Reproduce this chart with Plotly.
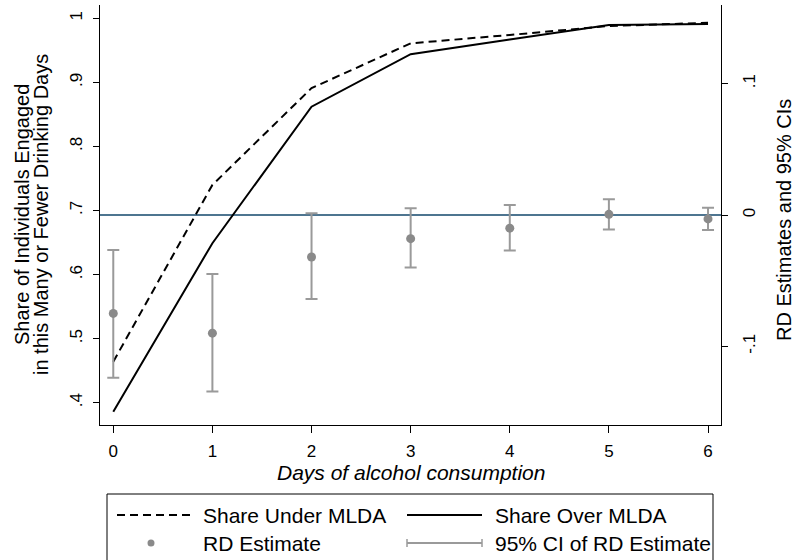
import plotly.graph_objects as go

# ---- data ----
days = [0, 1, 2, 3, 4, 5, 6]
share_under = [0.464, 0.740, 0.891, 0.961, 0.974, 0.988, 0.993]
share_over = [0.386, 0.649, 0.862, 0.944, 0.967, 0.9895, 0.991]
rd_est = [-0.075, -0.090, -0.032, -0.018, -0.010, 0.0005, -0.003]
ci_low = [-0.124, -0.1345, -0.064, -0.040, -0.027, -0.011, -0.0114]
ci_high = [-0.0266, -0.0449, 0.0013, 0.0051, 0.0076, 0.012, 0.0056]

left_tickvals = [0.4, 0.5, 0.6, 0.7, 0.8, 0.9, 1.0]
left_ticktext = [".4", ".5", ".6", ".7", ".8", ".9", "1"]
right_tickvals = [-0.1, 0.0, 0.1]
right_ticktext = ["-.1", "0", ".1"]

FONT = "Liberation Sans, Arial, sans-serif"
GREY_MK = "#8a8a8a"
GREY_CI = "#9a9a9a"
ZERO_COL = "#4e7590"

W, H = 795, 560
L, R, T, B = 100, 74, 5, 135
PW, PH = W - L - R, H - T - B


def xp(page_x):
    return (page_x - L) / PW


def yp(page_y):
    return (H - B - page_y) / PH


fig = go.Figure()

err_plus = [h - e for h, e in zip(ci_high, rd_est)]
err_minus = [e - l for e, l in zip(rd_est, ci_low)]

fig.add_trace(go.Scatter(
    x=days, y=rd_est, yaxis="y2", mode="markers",
    marker=dict(color=GREY_MK, size=9),
    error_y=dict(type="data", symmetric=False, array=err_plus, arrayminus=err_minus,
                 color=GREY_CI, thickness=2, width=6),
    name="RD Estimate", showlegend=False,
))
fig.add_trace(go.Scatter(
    x=days, y=share_under, mode="lines",
    line=dict(color="black", width=2, dash="8px,5px"),
    name="Share Under MLDA", showlegend=False,
))
fig.add_trace(go.Scatter(
    x=days, y=share_over, mode="lines",
    line=dict(color="black", width=2),
    name="Share Over MLDA", showlegend=False,
))

tickfont = dict(family=FONT, size=17, color="black")

fig.update_layout(
    width=W, height=H,
    margin=dict(l=L, r=R, t=T, b=B, autoexpand=False),
    paper_bgcolor="white", plot_bgcolor="white",
    font=dict(family=FONT, color="black"),
    xaxis=dict(range=[-0.134, 6.131], tickvals=days, ticktext=[str(d) for d in days],
               ticks="outside", ticklen=7, tickcolor="black", tickwidth=1,
               showline=True, linecolor="black", linewidth=1, showgrid=False,
               zeroline=False, tickfont=tickfont, ticklabelstandoff=4, automargin=False),
    yaxis=dict(range=[0.3652, 1.0208], tickvals=left_tickvals, ticktext=left_ticktext,
               tickangle=-90, ticks="outside", ticklen=6, tickcolor="black",
               showline=True, linecolor="black", linewidth=1, showgrid=False,
               zeroline=False, tickfont=tickfont, ticklabelstandoff=4, automargin=False),
    yaxis2=dict(range=[-0.16, 0.16], tickvals=right_tickvals, ticktext=right_ticktext,
                overlaying="y", side="right", tickangle=-90, ticks="outside",
                ticklen=6, tickcolor="black", showline=True, linecolor="black",
                linewidth=1, showgrid=False, zeroline=True, zerolinecolor=ZERO_COL,
                zerolinewidth=1.5, tickfont=tickfont, ticklabelstandoff=7, automargin=False),
    showlegend=False,
)

ann = []
# axis titles
ann.append(dict(text="<i>Days of alcohol consumption</i>", xref="paper", yref="paper",
                x=0.5, y=yp(472), xanchor="center", yanchor="middle", showarrow=False,
                font=dict(family=FONT, size=21)))
ann.append(dict(text="Share of Individuals Engaged", xref="paper", yref="paper",
                x=xp(22), y=yp(215), xanchor="center", yanchor="middle", showarrow=False,
                textangle=-90, font=dict(family=FONT, size=20)))
ann.append(dict(text="in this Many or Fewer Drinking Days", xref="paper", yref="paper",
                x=xp(41), y=yp(215), xanchor="center", yanchor="middle", showarrow=False,
                textangle=-90, font=dict(family=FONT, size=20)))
ann.append(dict(text="RD Estimates and 95% CIs", xref="paper", yref="paper",
                x=xp(784), y=yp(220), xanchor="center", yanchor="middle", showarrow=False,
                textangle=-90, font=dict(family=FONT, size=20)))
# legend texts
for txt, px_, py_ in [("Share Under MLDA", 201, 515), ("Share Over MLDA", 493, 515),
                      ("RD Estimate", 201, 543), ("95% CI of RD Estimate", 493, 543)]:
    ann.append(dict(text=txt, xref="paper", yref="paper", x=xp(px_), y=yp(py_),
                    xanchor="left", yanchor="middle", showarrow=False,
                    font=dict(family=FONT, size=21)))
fig.update_layout(annotations=ann)

shapes = []
# legend box (its lower edge lies below the figure, as in the reference)
shapes.append(dict(type="rect", xref="paper", yref="paper", x0=xp(107), x1=xp(713),
                   y0=yp(494), y1=yp(575), line=dict(color="black", width=1)))
# legend keys
shapes.append(dict(type="line", xref="paper", yref="paper", x0=xp(117), x1=xp(190),
                   y0=yp(515), y1=yp(515), line=dict(color="black", width=2, dash="8px,5px")))
shapes.append(dict(type="line", xref="paper", yref="paper", x0=xp(407), x1=xp(482),
                   y0=yp(515), y1=yp(515), line=dict(color="black", width=2)))
shapes.append(dict(type="circle", xref="paper", yref="paper", x0=xp(147.5), x1=xp(154.5),
                   y0=yp(539.5), y1=yp(546.5), fillcolor=GREY_MK, line=dict(width=0)))
shapes.append(dict(type="line", xref="paper", yref="paper", x0=xp(407), x1=xp(482),
                   y0=yp(543), y1=yp(543), line=dict(color=GREY_CI, width=2)))
for cx in (407, 482):
    shapes.append(dict(type="line", xref="paper", yref="paper", x0=xp(cx), x1=xp(cx),
                       y0=yp(539), y1=yp(547), line=dict(color=GREY_CI, width=1.5)))
fig.update_layout(shapes=shapes)

fig.write_html(
    "out.html",
    config={"displayModeBar": False},
    post_script="document.body.style.margin='0';document.body.style.overflow='hidden';",
)
